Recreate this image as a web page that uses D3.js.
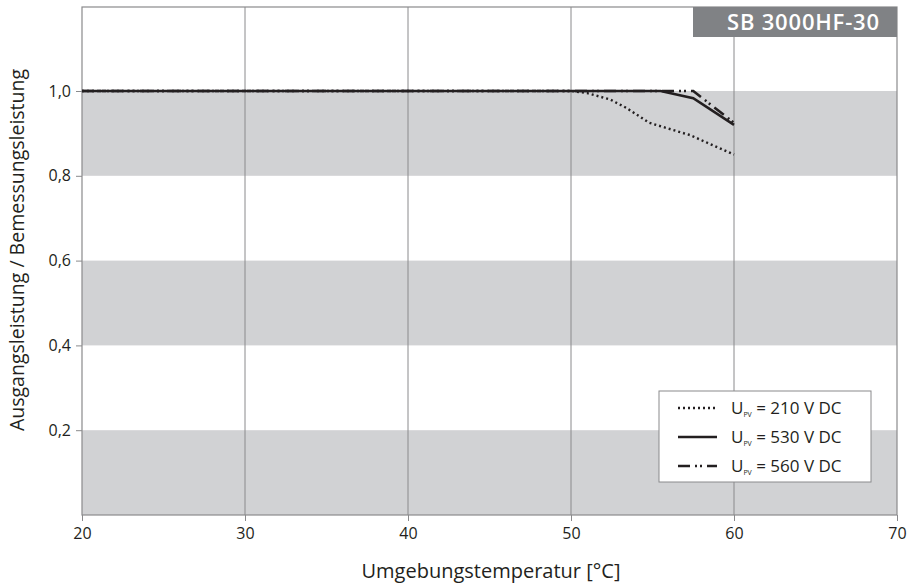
<!DOCTYPE html>
<html><head><meta charset="utf-8">
<script src="https://cdn.jsdelivr.net/npm/d3@7"></script>
<style>body{margin:0;background:#fff}svg{display:block}text{font-family:"Open Sans",sans-serif}</style>
</head><body><svg id="c" width="917" height="587"></svg>
<script>
const xTicks = [20,30,40,50,60,70];
const yTicks = [0.2,0.4,0.6,0.8,1.0];
const bands = [[0,0.2],[0.4,0.6],[0.8,1.0]];
const series210 = [[20,1],[50,1],[51,0.995],[52.4,0.98],[53.4,0.96],[54.8,0.925],[57.3,0.896],[60,0.85]];
const series530 = [[20,1],[55.5,1],[57.5,0.983],[60,0.92]];
const series560 = [[20,1],[57.5,1],[60,0.925]];
const legendLabels = ["210 V DC","530 V DC","560 V DC"];
const title = "SB 3000HF-30";

const svg = d3.select("#c");
const L=82,R=897,T=7,B=515;
const x = d3.scaleLinear().domain([20,70]).range([L,R]);
const y = d3.scaleLinear().domain([0,1.2]).range([B, B-424*1.2]);

// bands
svg.selectAll("rect.band").data(bands).enter().append("rect")
  .attr("x",L).attr("width",R-L).attr("y",d=>y(d[1])).attr("height",d=>y(d[0])-y(d[1]))
  .attr("fill","#d1d2d4");
// vertical grid
svg.selectAll("line.g").data(xTicks.slice(1,-1)).enter().append("line")
  .attr("x1",d=>x(d)).attr("x2",d=>x(d)).attr("y1",T).attr("y2",B)
  .attr("stroke","#8a8a8c").attr("stroke-width",1);
// frame
svg.append("rect").attr("x",L).attr("y",T).attr("width",R-L).attr("height",B-T)
  .attr("fill","none").attr("stroke","#8a8a8c").attr("stroke-width",1.2);

// axes
const xAxis = svg.append("g").attr("transform",`translate(0,${B})`)
  .call(d3.axisBottom(x).tickValues(xTicks).tickSize(6).tickPadding(4).tickFormat(d3.format("d")));
const yAxis = svg.append("g").attr("transform",`translate(${L},0)`)
  .call(d3.axisLeft(y).tickValues(yTicks).tickSize(6).tickPadding(5).tickFormat(d=>d3.format(".1f")(d).replace(".",",")));
[xAxis,yAxis].forEach(a=>{a.select(".domain").remove();a.selectAll("line").attr("stroke","#8a8a8c");
  a.selectAll("text").attr("font-size",16).attr("fill","#231f20").attr("font-family","'Open Sans',sans-serif");});
xAxis.selectAll("text").attr("dy","0.85em");

// lines
const line = d3.line().x(d=>x(d[0])).y(d=>y(d[1]));
const styles = [
  {data:series210, dash:"2,3", w:2.4},
  {data:series530, dash:null, w:2.6},
  {data:series560, dash:"12,5,2,3,2,5", w:2.6}
];
styles.forEach(s=>{
  svg.append("path").datum(s.data).attr("d",line).attr("fill","none")
   .attr("stroke","#231f20").attr("stroke-width",s.w).attr("stroke-dasharray",s.dash);
});

// title box
svg.append("rect").attr("x",693).attr("y",T).attr("width",R-693).attr("height",30).attr("fill","#808285");
svg.append("text").attr("x",(693+R)/2+8).attr("y",T+23).attr("text-anchor","middle")
  .attr("fill","#fff").attr("font-size",22).attr("font-weight",600).attr("textLength",152).text(title);

// legend
const lg = svg.append("g");
lg.append("rect").attr("x",659).attr("y",391).attr("width",212).attr("height",91)
  .attr("fill","#fff").attr("stroke","#8a8a8c").attr("stroke-width",1);
styles.forEach((s,i)=>{
  const yy = 408+i*29;
  lg.append("line").attr("x1",678).attr("x2",717).attr("y1",yy).attr("y2",yy)
    .attr("stroke","#231f20").attr("stroke-width",s.w).attr("stroke-dasharray",s.dash);
  const t = lg.append("text").attr("x",731).attr("y",yy+6).attr("font-size",17).attr("fill","#231f20");
  t.append("tspan").text("U");
  t.append("tspan").attr("font-size",7).attr("dy",3).text("PV");
  t.append("tspan").attr("dy",-3).text(" = "+legendLabels[i]);
});

// axis titles
svg.append("text").attr("x",491).attr("y",578).attr("text-anchor","middle").attr("font-size",20)
  .attr("fill","#231f20").text("Umgebungstemperatur [°C]");
svg.append("text").attr("transform","translate(24,250) rotate(-90)").attr("text-anchor","middle")
  .attr("font-size",19.5).attr("fill","#231f20").text("Ausgangsleistung / Bemessungsleistung");
</script></body></html>
